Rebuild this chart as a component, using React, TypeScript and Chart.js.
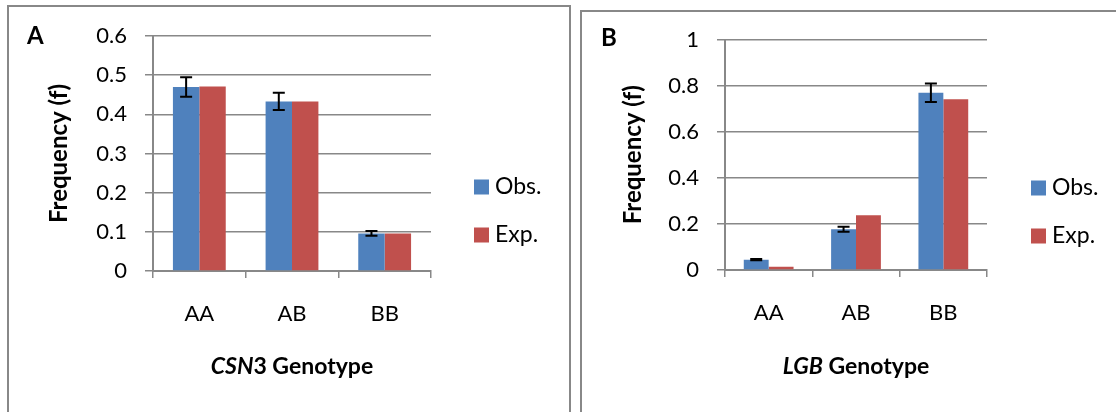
import React, { useEffect, useRef } from 'react';
import { Chart, registerables } from 'chart.js';

Chart.register(...registerables);

// ---------- data ----------
const categories = ['AA', 'AB', 'BB'];
const seriesLabels = ['Obs.', 'Exp.'];

const obsA = [0.47, 0.433, 0.096];
const expA = [0.471, 0.433, 0.096];
const errA = [0.025, 0.022, 0.006];

const obsB = [0.045, 0.177, 0.769];
const expB = [0.014, 0.237, 0.741];
const errB = [0.003, 0.011, 0.04];

const yTicksA = ['0', '0.1', '0.2', '0.3', '0.4', '0.5', '0.6'];
const yTicksB = ['0', '0.2', '0.4', '0.6', '0.8', '1'];

const yTitle = 'Frequency (f)';
const xTitleA = [
  { text: 'CSN', italic: true },
  { text: '3 Genotype', italic: false },
];
const xTitleB = [
  { text: 'LGB', italic: true },
  { text: ' Genotype', italic: false },
];

// ---------- styles ----------
const FONT = "Lato, 'Noto Sans', 'DejaVu Sans', sans-serif";
const BLUE = '#4F81BD';
const RED = '#C0504D';
const GRID = '#888888';
const TICK_SIZE = 22;
const YTITLE_SIZE = 24;
const XTITLE_SIZE = 23;
const LETTER_SIZE = 24;
const LEGEND_SIZE = 23;

type Part = { text: string; italic: boolean };

type PanelCfg = {
  width: number;
  height: number;
  obs: number[];
  exp: number[];
  err: number[];
  ticks: string[];
  area: { left: number; top: number; right: number; bottom: number };
  yTitleX: number;
  letter: string;
  letterX: number;
  letterY: number;
  xTitle: Part[];
  xTitleY: number;
  legendBoxX: number;
  legendTextX: number;
  legendY: number[];
};

function makeErrorBarPlugin() {
  return {
    id: 'errorBars',
    afterDatasetsDraw(chart: any) {
      const ds = chart.data.datasets[0];
      const errs: number[] = ds.errors || [];
      const meta = chart.getDatasetMeta(0);
      const y = chart.scales.y;
      const ctx = chart.ctx;
      ctx.save();
      ctx.strokeStyle = '#000';
      ctx.lineWidth = 2;
      meta.data.forEach((bar: any, i: number) => {
        const v = ds.data[i];
        const e = errs[i] || 0;
        const x = bar.x;
        const yt = y.getPixelForValue(v + e);
        const yb = y.getPixelForValue(v - e);
        ctx.beginPath();
        ctx.moveTo(x, yt);
        ctx.lineTo(x, yb);
        ctx.moveTo(x - 6, yt);
        ctx.lineTo(x + 6, yt);
        ctx.moveTo(x - 6, yb);
        ctx.lineTo(x + 6, yb);
        ctx.stroke();
      });
      ctx.restore();
    },
  };
}

function makeOverlayPlugin(cfg: PanelCfg) {
  return {
    id: 'overlay',
    afterDraw(chart: any) {
      const ctx = chart.ctx;
      const area = chart.chartArea;
      ctx.save();
      // panel letter
      ctx.fillStyle = '#000';
      ctx.font = `bold ${LETTER_SIZE}px ${FONT}`;
      ctx.textAlign = 'left';
      ctx.textBaseline = 'alphabetic';
      ctx.fillText(cfg.letter, cfg.letterX, cfg.letterY);

      // x axis title with mixed italic
      const fonts = cfg.xTitle.map(
        (p) => `${p.italic ? 'italic ' : ''}bold ${XTITLE_SIZE}px ${FONT}`
      );
      let total = 0;
      const widths = cfg.xTitle.map((p, i) => {
        ctx.font = fonts[i];
        const w = ctx.measureText(p.text).width;
        total += w;
        return w;
      });
      let x = (area.left + area.right) / 2 - total / 2;
      cfg.xTitle.forEach((p, i) => {
        ctx.font = fonts[i];
        ctx.fillText(p.text, x, cfg.xTitleY);
        x += widths[i];
      });

      // legend
      ctx.font = `${LEGEND_SIZE}px ${FONT}`;
      ctx.textBaseline = 'middle';
      chart.data.datasets.forEach((ds: any, i: number) => {
        const cy = cfg.legendY[i];
        ctx.fillStyle = ds.backgroundColor;
        ctx.fillRect(cfg.legendBoxX, cy - 7.5, 15, 15);
        ctx.fillStyle = '#000';
        ctx.fillText(ds.label, cfg.legendTextX, cy);
      });
      ctx.restore();
    },
  };
}

function buildConfig(cfg: PanelCfg): any {
  const maxV = parseFloat(cfg.ticks[cfg.ticks.length - 1]);
  return {
    type: 'bar',
    data: {
      labels: categories,
      datasets: [
        {
          label: seriesLabels[0],
          data: cfg.obs,
          errors: cfg.err,
          backgroundColor: BLUE,
          categoryPercentage: 0.57,
          barPercentage: 1,
        },
        {
          label: seriesLabels[1],
          data: cfg.exp,
          backgroundColor: RED,
          categoryPercentage: 0.57,
          barPercentage: 1,
        },
      ],
    },
    options: {
      animation: false,
      responsive: false,
      maintainAspectRatio: false,
      events: [],
      layout: {
        padding: {
          left: 0,
          top: cfg.area.top,
          right: cfg.width - cfg.area.right,
          bottom: 0,
        },
      },
      plugins: {
        legend: { display: false },
        tooltip: { enabled: false },
        title: { display: false },
      },
      scales: {
        x: {
          type: 'category',
          afterFit: (s: any) => {
            s.height = cfg.height - cfg.area.bottom;
          },
          grid: {
            display: true,
            drawOnChartArea: false,
            drawTicks: true,
            tickLength: 7,
            color: GRID,
            lineWidth: 1.5,
            offset: true,
          },
          border: { display: true, color: GRID, width: 2 },
          ticks: {
            color: '#000',
            font: { family: FONT, size: TICK_SIZE },
            padding: 23,
            maxRotation: 0,
          },
        },
        y: {
          type: 'linear',
          min: 0,
          max: maxV,
          afterFit: (s: any) => {
            s.width = cfg.area.left;
          },
          afterBuildTicks: (s: any) => {
            s.ticks = cfg.ticks.map((t) => ({ value: parseFloat(t) }));
          },
          grid: {
            color: GRID,
            lineWidth: 1.5,
            drawTicks: true,
            tickLength: 8,
          },
          border: { display: true, color: GRID, width: 2 },
          ticks: {
            color: '#000',
            font: { family: FONT, size: TICK_SIZE },
            padding: 18,
            callback: (_v: any, i: number) => cfg.ticks[i],
          },
          title: {
            display: true,
            text: yTitle,
            color: '#000',
            font: { family: FONT, size: YTITLE_SIZE, weight: 'bold' },
            padding: { top: cfg.yTitleX - YTITLE_SIZE * 0.6, bottom: 0 },
          },
        },
      },
    },
    plugins: [makeErrorBarPlugin(), makeOverlayPlugin(cfg)],
  };
}

const panelA: PanelCfg = {
  width: 575,
  height: 412,
  obs: obsA,
  exp: expA,
  err: errA,
  ticks: yTicksA,
  area: { left: 153, top: 36, right: 431, bottom: 271 },
  yTitleX: 59,
  letter: 'A',
  letterX: 27,
  letterY: 44,
  xTitle: xTitleA,
  xTitleY: 374,
  legendBoxX: 474,
  legendTextX: 495,
  legendY: [187, 235],
};

const panelB: PanelCfg = {
  width: 541,
  height: 412,
  obs: obsB,
  exp: expB,
  err: errB,
  ticks: yTicksB,
  area: { left: 150, top: 39.5, right: 412, bottom: 270 },
  yTitleX: 58,
  letter: 'B',
  letterX: 26,
  letterY: 46,
  xTitle: xTitleB,
  xTitleY: 374,
  legendBoxX: 456,
  legendTextX: 477,
  legendY: [188, 236],
};

function Panel({ cfg, left }: { cfg: PanelCfg; left: number }) {
  const ref = useRef<HTMLCanvasElement | null>(null);
  useEffect(() => {
    if (!ref.current) return;
    const chart = new Chart(ref.current, buildConfig(cfg));
    return () => chart.destroy();
  }, [cfg]);
  return (
    <canvas
      ref={ref}
      width={cfg.width}
      height={cfg.height}
      style={{
        position: 'absolute',
        left,
        top: 0,
        width: cfg.width,
        height: cfg.height,
      }}
    />
  );
}

export default function App() {
  return (
    <div
      style={{
        position: 'absolute',
        left: 0,
        top: 0,
        width: 1116,
        height: 412,
        overflow: 'hidden',
        background: '#fff',
      }}
    >
      <div
        style={{
          position: 'absolute',
          left: 7,
          top: 5,
          width: 560,
          height: 440,
          border: `2px solid ${GRID}`,
        }}
      />
      <div
        style={{
          position: 'absolute',
          left: 580,
          top: 10,
          width: 600,
          height: 440,
          border: `2px solid ${GRID}`,
        }}
      />
      <Panel cfg={panelA} left={0} />
      <Panel cfg={panelB} left={575} />
    </div>
  );
}
